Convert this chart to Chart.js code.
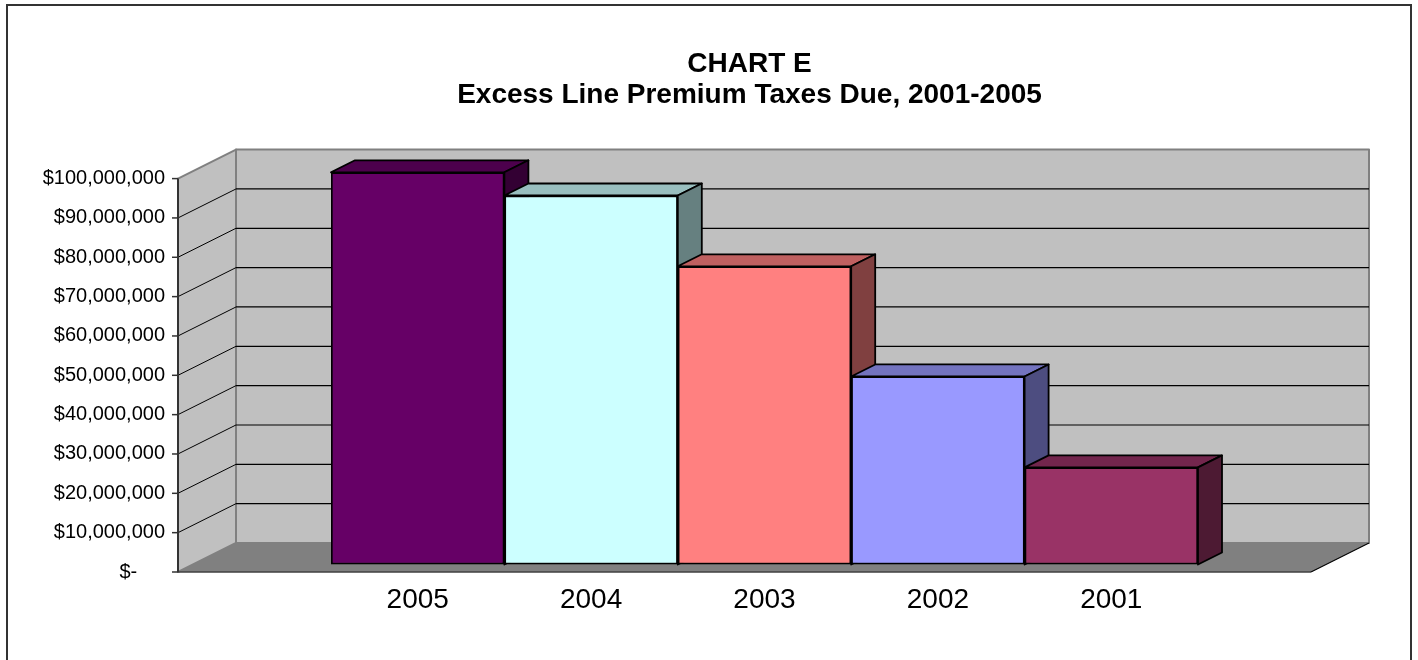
<!DOCTYPE html>
<html lang="en">
<head>
    <meta charset="UTF-8">
    <title>Chart E - Excess Line Premium Taxes Due</title>
    <style>
        body {
            margin: 0;
            background: #ffffff;
        }

        .chart-box {
            position: relative;
            width: 1418px;
            height: 660px;
        }
    </style>
</head>
<body>
    <div class="chart-box"><canvas id="chartE"></canvas></div>

    <script src="https://cdn.jsdelivr.net/npm/chart.js"></script>
    <script>
        // Data
        const years = ['2005', '2004', '2003', '2002', '2001'];
        const taxesDue = [99700000, 93800000, 75800000, 47800000, 24700000];
        const titleLines = ['CHART E', 'Excess Line Premium Taxes Due, 2001-2005'];
        const yMax = 100000000;
        const yStep = 10000000;

        const barColors = ['#660066', '#ccffff', '#ff8080', '#9999ff', '#993366'];

        // fake 3D geometry, in px
        const WALL_DX = 58, WALL_DY = -29;          // depth of the wall box
        const BAR_SHIFT_X = 15, BAR_SHIFT_Y = -7.5; // bars stand a bit behind the front edge
        const BAR_DX = 24, BAR_DY = -12;            // thickness of each bar
        const FLOOR_LEFT = 138, FLOOR_RIGHT = 128;  // floor sticks out past the bars

        function shade(hex, f) {
            const n = parseInt(hex.slice(1), 16);
            const r = Math.round(((n >> 16) & 255) * f);
            const g = Math.round(((n >> 8) & 255) * f);
            const b = Math.round((n & 255) * f);
            return `rgb(${r}, ${g}, ${b})`;
        }

        function poly(ctx, pts, fill, stroke, width) {
            ctx.beginPath();
            ctx.moveTo(pts[0][0], pts[0][1]);
            for (let i = 1; i < pts.length; i++) ctx.lineTo(pts[i][0], pts[i][1]);
            ctx.closePath();
            if (fill) {
                ctx.fillStyle = fill;
                ctx.fill();
            }
            if (stroke) {
                ctx.strokeStyle = stroke;
                ctx.lineWidth = width;
                ctx.lineJoin = 'round';
                ctx.stroke();
            }
        }

        function line(ctx, x0, y0, x1, y1, color, width) {
            ctx.beginPath();
            ctx.moveTo(x0, y0);
            ctx.lineTo(x1, y1);
            ctx.strokeStyle = color;
            ctx.lineWidth = width;
            ctx.stroke();
        }

        const box3d = {
            id: 'box3d',
            beforeDraw(chart) {
                const ctx = chart.ctx;
                ctx.save();
                ctx.fillStyle = '#ffffff';
                ctx.fillRect(0, 0, chart.width, chart.height);
                ctx.strokeStyle = '#333333';
                ctx.lineWidth = 2;
                ctx.strokeRect(7, 5, 1404, 700);
                ctx.restore();
            },
            beforeDatasetsDraw(chart) {
                const { ctx, chartArea: a, scales: { y } } = chart;
                const x0 = a.left - FLOOR_LEFT, x1 = a.right + FLOOR_RIGHT;
                const yTop = y.getPixelForValue(y.max), yBot = y.getPixelForValue(0);

                ctx.save();
                // back wall
                poly(ctx, [[x0 + WALL_DX, yTop + WALL_DY], [x1 + WALL_DX, yTop + WALL_DY],
                           [x1 + WALL_DX, yBot + WALL_DY], [x0 + WALL_DX, yBot + WALL_DY]], '#c0c0c0', '#808080', 2);
                // side wall
                poly(ctx, [[x0, yTop], [x0 + WALL_DX, yTop + WALL_DY],
                           [x0 + WALL_DX, yBot + WALL_DY], [x0, yBot]], '#c0c0c0', '#808080', 2);
                // floor
                poly(ctx, [[x0, yBot], [x1, yBot], [x1 + WALL_DX, yBot + WALL_DY],
                           [x0 + WALL_DX, yBot + WALL_DY]], '#808080', null, 0);
                line(ctx, x0, yBot, x1, yBot, '#404040', 1.5);
                line(ctx, x1, yBot, x1 + WALL_DX, yBot + WALL_DY, '#000000', 1.2);

                // gridlines on both walls
                y.ticks.forEach(t => {
                    if (t.value <= 0 || t.value >= y.max) return;
                    const py = y.getPixelForValue(t.value);
                    line(ctx, x0, py, x0 + WALL_DX, py + WALL_DY, '#000000', 1);
                    line(ctx, x0 + WALL_DX, py + WALL_DY, x1 + WALL_DX, py + WALL_DY, '#000000', 1.2);
                });

                // value axis line with tick marks
                line(ctx, x0, yTop, x0, yBot, '#333333', 2);
                y.ticks.forEach(t => {
                    const py = y.getPixelForValue(t.value);
                    line(ctx, x0 - 6, py, x0, py, '#333333', 1.5);
                });
                ctx.restore();

                // bars sit behind the front edge: shift them, draw tops and sides first
                ctx.save();
                ctx.translate(BAR_SHIFT_X, BAR_SHIFT_Y);
                chart.getDatasetMeta(0).data.forEach((bar, i) => {
                    const c = barColors[i];
                    const l = bar.x - bar.width / 2, r = bar.x + bar.width / 2;
                    const top = bar.y, base = bar.base;
                    poly(ctx, [[l, top], [r, top], [r + BAR_DX, top + BAR_DY], [l + BAR_DX, top + BAR_DY]],
                        shade(c, 0.75), '#000000', 1.8);
                    poly(ctx, [[r, top], [r + BAR_DX, top + BAR_DY], [r + BAR_DX, base + BAR_DY], [r, base]],
                        shade(c, 0.5), '#000000', 1.8);
                });
            },
            afterDatasetsDraw(chart) {
                chart.ctx.restore();
            }
        };

        Chart.defaults.font.family = "'Liberation Sans', Arial, sans-serif";
        Chart.defaults.color = '#000000';

        new Chart(document.getElementById('chartE'), {
            type: 'bar',
            data: {
                labels: years,
                datasets: [{
                    data: taxesDue,
                    backgroundColor: barColors,
                    borderColor: '#000000',
                    borderWidth: 2,
                    borderSkipped: false,
                    barPercentage: 1,
                    categoryPercentage: 1
                }]
            },
            options: {
                responsive: true,
                maintainAspectRatio: false,
                animation: false,
                layout: {
                    padding: { top: 0, left: 0, right: 235, bottom: 0 }
                },
                plugins: {
                    legend: { display: false },
                    tooltip: { enabled: false },
                    title: {
                        display: true,
                        fullSize: false,
                        text: titleLines,
                        color: '#000000',
                        font: { size: 28, weight: 'bold', lineHeight: 1.1 },
                        padding: { top: 49, bottom: 68 }
                    }
                },
                scales: {
                    x: {
                        grid: { display: false, drawTicks: false, tickLength: 0 },
                        border: { display: false },
                        ticks: {
                            font: { size: 28 },
                            padding: 11,
                            labelOffset: 15,
                            maxRotation: 0,
                            autoSkip: false
                        },
                        afterFit(scale) {
                            scale.height = 88;
                        }
                    },
                    y: {
                        min: 0,
                        max: yMax,
                        grid: { display: false, drawTicks: false, tickLength: 0 },
                        border: { display: false },
                        ticks: {
                            stepSize: yStep,
                            font: { size: 20 },
                            padding: 151,
                            callback: v => v === 0 ? '$-     ' : '$' + v.toLocaleString('en-US')
                        },
                        afterFit(scale) {
                            // labels sit far left of the bars; keep that gap out of the layout
                            scale.width = 316;
                            scale.paddingTop = 0;
                            scale.paddingBottom = 0;
                        }
                    }
                }
            },
            plugins: [box3d]
        });
    </script>
</body>
</html>
